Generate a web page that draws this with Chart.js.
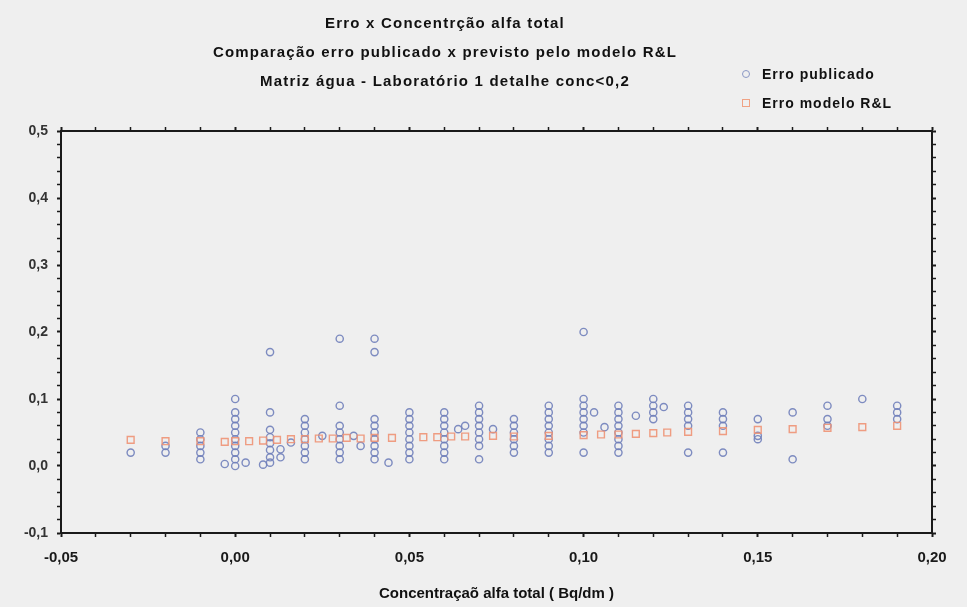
<!DOCTYPE html>
<html lang="pt">
<head>
<meta charset="utf-8">
<title>Erro x Concentração alfa total</title>
<script src="https://cdn.jsdelivr.net/npm/chart.js@4.4.0/dist/chart.umd.min.js"></script>
<style>
  html, body { margin: 0; padding: 0; background: #efefef; }
  #wrap { position: relative; width: 967px; height: 607px; background: #efefef; overflow: hidden; }
  .title {
    position: absolute; left: 0; width: 890px; text-align: center;
    font: bold 15px 'Liberation Sans', Arial, sans-serif; color: #111;
    letter-spacing: 1.2px; white-space: nowrap;
  }
  .legend-row {
    position: absolute; left: 742px; font: bold 14px 'Liberation Sans', Arial, sans-serif;
    letter-spacing: 1px; color: #111; white-space: nowrap;
  }
  .mark { display: inline-block; width: 6px; height: 6px; margin-right: 12px; vertical-align: 1px; }
  .mark--circle { border: 1.5px solid #8a97c4; border-radius: 50%; }
  .mark--square { border: 1.5px solid #f0a284; }
</style>
</head>
<body>
<div id="wrap">
  <canvas id="chart"></canvas>
  <div class="title" style="top:14px">Erro x Concentrção alfa total</div>
  <div class="title" style="top:43px">Comparação erro publicado x previsto pelo modelo R&amp;L</div>
  <div class="title" style="top:72px">Matriz água - Laboratório 1 detalhe conc&lt;0,2</div>
  <div class="legend-row" style="top:66px"><span class="mark mark--circle"></span>Erro publicado</div>
  <div class="legend-row" style="top:95px"><span class="mark mark--square"></span>Erro modelo R&amp;L</div>
</div>
<script>
// Erro publicado (circles)
const PUB_X = [
  -0.03,
  -0.02, -0.02,
  -0.01, -0.01, -0.01, -0.01, -0.01,
  0, 0, 0, 0, 0, 0, 0, 0, 0, 0, -0.003, 0.003,
  0.01, 0.01, 0.01, 0.01, 0.01, 0.01, 0.01, 0.01, 0.008, 0.013, 0.013, 0.016,
  0.02, 0.02, 0.02, 0.02, 0.02, 0.02, 0.02, 0.025,
  0.03, 0.03, 0.03, 0.03, 0.03, 0.03, 0.03, 0.03, 0.034, 0.036,
  0.04, 0.04, 0.04, 0.04, 0.04, 0.04, 0.04, 0.04, 0.04, 0.044,
  0.05, 0.05, 0.05, 0.05, 0.05, 0.05, 0.05, 0.05,
  0.06, 0.06, 0.06, 0.06, 0.06, 0.06, 0.06, 0.06, 0.064, 0.066,
  0.07, 0.07, 0.07, 0.07, 0.07, 0.07, 0.07, 0.07, 0.074,
  0.08, 0.08, 0.08, 0.08, 0.08, 0.08,
  0.09, 0.09, 0.09, 0.09, 0.09, 0.09, 0.09, 0.09,
  0.10, 0.10, 0.10, 0.10, 0.10, 0.10, 0.10, 0.10, 0.103, 0.106,
  0.11, 0.11, 0.11, 0.11, 0.11, 0.11, 0.11, 0.11, 0.115,
  0.12, 0.12, 0.12, 0.12, 0.123,
  0.13, 0.13, 0.13, 0.13, 0.13,
  0.14, 0.14, 0.14, 0.14,
  0.15, 0.15, 0.15,
  0.16, 0.16,
  0.17, 0.17, 0.17,
  0.18,
  0.19, 0.19, 0.19,
];
const PUB_Y = [
  0.02,
  0.02, 0.03,
  0.01, 0.02, 0.03, 0.04, 0.05,
  0.00, 0.01, 0.02, 0.03, 0.04, 0.05, 0.06, 0.07, 0.08, 0.10, 0.003, 0.005,
  0.005, 0.013, 0.024, 0.034, 0.043, 0.054, 0.08, 0.17, 0.002, 0.013, 0.025, 0.035,
  0.01, 0.02, 0.03, 0.04, 0.05, 0.06, 0.07, 0.045,
  0.01, 0.02, 0.03, 0.04, 0.05, 0.06, 0.09, 0.19, 0.045, 0.03,
  0.01, 0.02, 0.03, 0.04, 0.05, 0.06, 0.07, 0.17, 0.19, 0.005,
  0.01, 0.02, 0.03, 0.04, 0.05, 0.06, 0.07, 0.08,
  0.01, 0.02, 0.03, 0.04, 0.05, 0.06, 0.07, 0.08, 0.055, 0.06,
  0.01, 0.03, 0.04, 0.05, 0.06, 0.07, 0.08, 0.09, 0.055,
  0.02, 0.03, 0.04, 0.05, 0.06, 0.07,
  0.02, 0.03, 0.04, 0.05, 0.06, 0.07, 0.08, 0.09,
  0.02, 0.05, 0.06, 0.07, 0.08, 0.09, 0.10, 0.20, 0.08, 0.058,
  0.02, 0.03, 0.04, 0.05, 0.06, 0.07, 0.08, 0.09, 0.075,
  0.07, 0.08, 0.09, 0.10, 0.088,
  0.02, 0.06, 0.07, 0.08, 0.09,
  0.02, 0.06, 0.07, 0.08,
  0.04, 0.045, 0.07,
  0.01, 0.08,
  0.06, 0.07, 0.09,
  0.10,
  0.07, 0.08, 0.09,
];

// Erro modelo R&L (squares)
const MOD_X = [
  -0.03, -0.02, -0.01, -0.003, 0, 0.004, 0.008, 0.012, 0.016, 0.02, 0.024, 0.028,
  0.032, 0.036, 0.04, 0.045, 0.054, 0.058, 0.062, 0.066, 0.074, 0.08, 0.09, 0.10,
  0.105, 0.11, 0.115, 0.12, 0.124, 0.13, 0.14, 0.15, 0.16, 0.17, 0.18, 0.19,
];
const MOD_Y = [
  0.039, 0.037, 0.037, 0.036, 0.037, 0.037, 0.038, 0.039, 0.04, 0.04, 0.041, 0.041,
  0.042, 0.041, 0.042, 0.042, 0.043, 0.043, 0.044, 0.044, 0.045, 0.044, 0.045, 0.046,
  0.047, 0.047, 0.048, 0.049, 0.05, 0.051, 0.052, 0.054, 0.055, 0.057, 0.058, 0.06,
];

const X_TICKS = [-0.05, 0, 0.05, 0.10, 0.15, 0.20];
const Y_TICKS = [-0.1, 0, 0.1, 0.2, 0.3, 0.4, 0.5];

const AXIS_COLOR = '#1a1a1a';
const isMajor = (list, v) => list.some((t) => Math.abs(t - v) < 1e-9);
const fmt = (v, d) => v.toFixed(d).replace('.', ',');
const toPoints = (xs, ys) => xs.map((x, i) => ({ x, y: ys[i] }));

// plot box in page pixels
const BOX = { left: 61, right: 932, top: 131, bottom: 533 };

function gridOpts(list) {
  return {
    display: true,
    drawOnChartArea: false,
    drawTicks: true,
    tickLength: 4,
    tickColor: AXIS_COLOR,
    tickWidth: (ctx) => (isMajor(list, ctx.tick.value) ? 2 : 1.5),
  };
}

const border = { display: true, color: AXIS_COLOR, width: 2 };

new Chart(document.getElementById('chart'), {
  type: 'scatter',
  data: {
    datasets: [
      {
        label: 'Erro publicado',
        data: toPoints(PUB_X, PUB_Y),
        pointStyle: 'circle',
        pointRadius: 3.6,
        borderWidth: 1.4,
        borderColor: 'rgba(112,128,186,0.9)',
        backgroundColor: 'rgba(0,0,0,0)',
        order: 1,
      },
      {
        label: 'Erro modelo R&L',
        data: toPoints(MOD_X, MOD_Y),
        pointStyle: 'rect',
        pointRadius: 4.8,
        borderWidth: 1.4,
        borderColor: 'rgba(238,146,116,0.9)',
        backgroundColor: 'rgba(0,0,0,0)',
        order: 0,
      },
    ],
  },
  options: {
    responsive: true,
    maintainAspectRatio: false,
    animation: false,
    layout: { padding: 0 },
    plugins: { legend: { display: false }, tooltip: { enabled: false } },
    scales: {
      x: {
        type: 'linear', position: 'bottom', min: -0.05, max: 0.2,
        afterFit: (s) => { s.height = 607 - BOX.bottom; },
        ticks: {
          stepSize: 0.01, autoSkip: false, maxRotation: 0, padding: 12, color: '#1a1a1a',
          font: { family: "'Liberation Sans Narrow', 'Liberation Sans', Arial", size: 15, weight: 'bold' },
          callback: (v) => (isMajor(X_TICKS, v) ? fmt(v, 2) : ''),
        },
        grid: gridOpts(X_TICKS),
        border,
        title: {
          display: true,
          text: 'Concentraçaõ alfa total ( Bq/dm )',
          color: '#111',
          padding: { top: 14 },
          font: { family: "'Liberation Sans Narrow', 'Liberation Sans', Arial", size: 15, weight: 'bold' },
        },
      },
      xTop: {
        type: 'linear', position: 'top', min: -0.05, max: 0.2,
        afterFit: (s) => { s.height = BOX.top; },
        ticks: { stepSize: 0.01, autoSkip: false, callback: () => '' },
        grid: gridOpts(X_TICKS),
        border,
      },
      y: {
        type: 'linear', position: 'left', min: -0.1, max: 0.5,
        afterFit: (s) => { s.width = BOX.left; },
        ticks: {
          stepSize: 0.02, autoSkip: false, padding: 9, color: '#333',
          font: { family: "'Liberation Sans', Arial", size: 14, weight: 'bold' },
          callback: (v) => (isMajor(Y_TICKS, v) ? fmt(v, 1) : ''),
        },
        grid: gridOpts(Y_TICKS),
        border,
      },
      yRight: {
        type: 'linear', position: 'right', min: -0.1, max: 0.5,
        afterFit: (s) => { s.width = 967 - BOX.right; },
        ticks: { stepSize: 0.02, autoSkip: false, callback: () => '' },
        grid: gridOpts(Y_TICKS),
        border,
      },
    },
  },
});
</script>
</body>
</html>
